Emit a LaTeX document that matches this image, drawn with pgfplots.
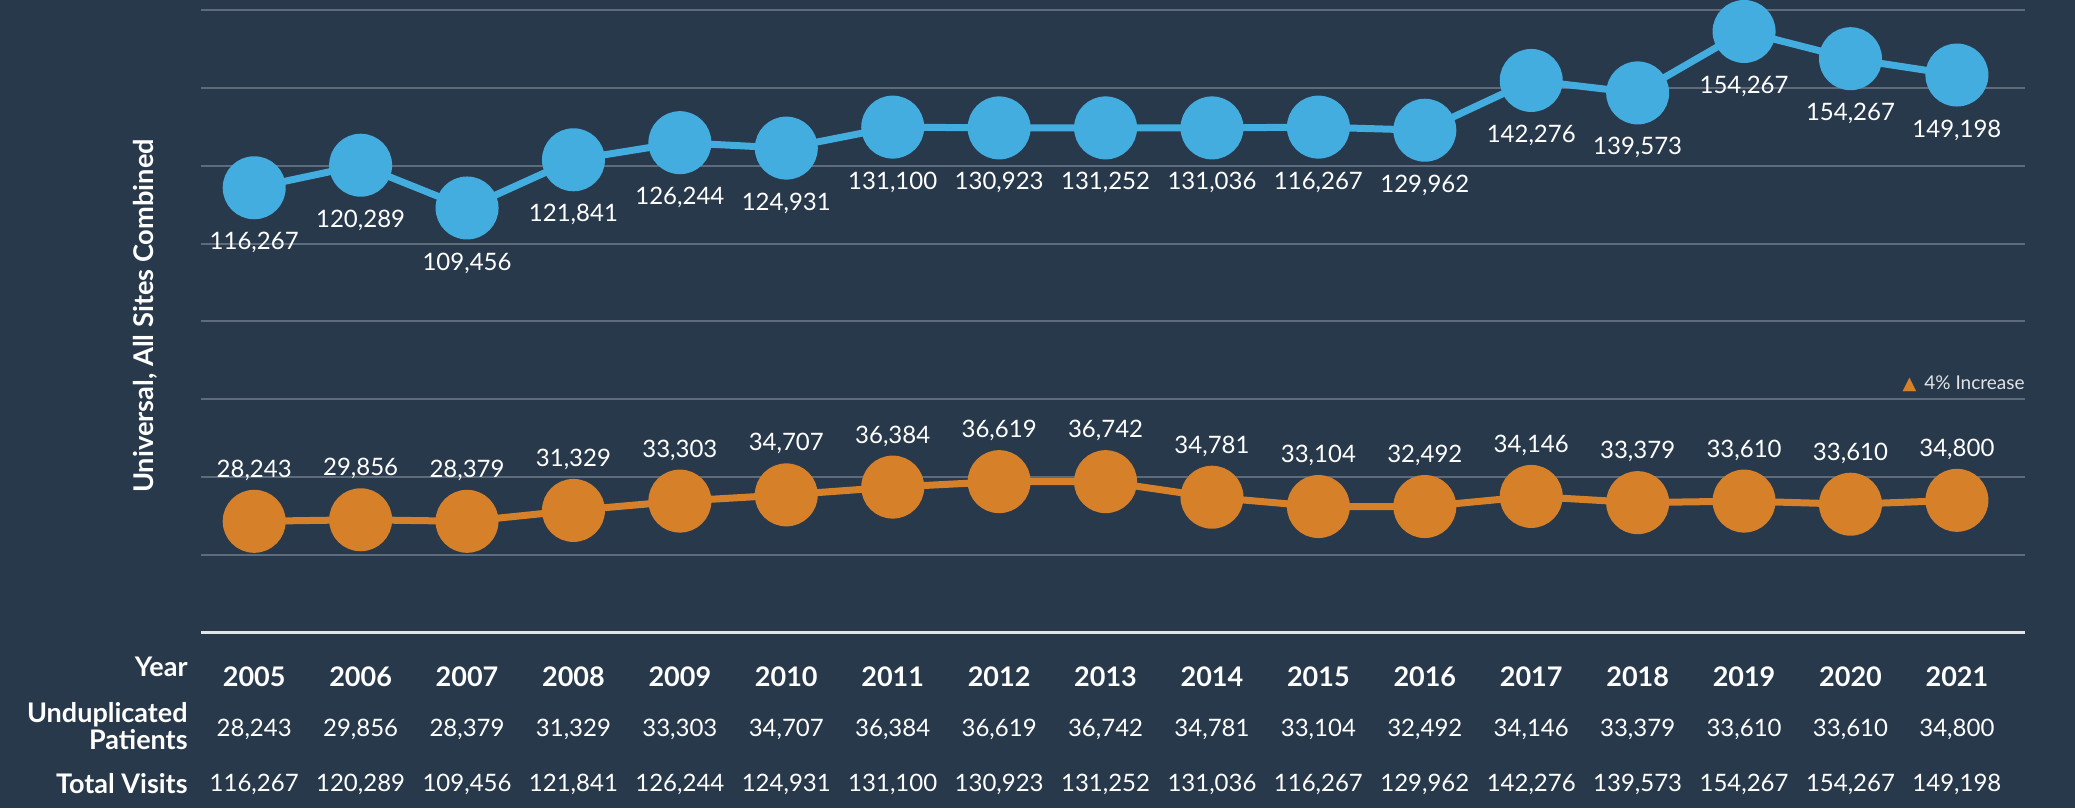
\documentclass[border=0pt]{standalone}
\usepackage{pgfplots}
\pgfplotsset{compat=1.18}
\usepackage{pgfplotstable}
\usepackage{fontspec}
\setmainfont{Lato}
\newfontfamily\symfont{DejaVu Sans}

\definecolor{bg}{HTML}{28394B}
\definecolor{vblue}{HTML}{43ADDF}
\definecolor{porange}{HTML}{D7802A}
\definecolor{gridc}{HTML}{5D6B7A}
\definecolor{basec}{HTML}{E1E5E9}
\newcommand{\lbl}{\fontsize{12pt}{14.4pt}\selectfont}
\newcommand{\bld}{\bfseries\fontsize{13.5pt}{14pt}\selectfont}

% vpos / ppos: marker heights as drawn (gridline units), labels: printed values
\pgfplotstableread{
year visits vpos patients ppos
2005 116,267 5.72 28,243 1.43
2006 120,289 6.01 29,856 1.45
2007 109,456 5.46 28,379 1.43
2008 121,841 6.08 31,329 1.57
2009 126,244 6.30 33,303 1.69
2010 124,931 6.23 34,707 1.77
2011 131,100 6.50 36,384 1.87
2012 130,923 6.49 36,619 1.94
2013 131,252 6.49 36,742 1.94
2014 131,036 6.49 34,781 1.74
2015 116,267 6.50 33,104 1.62
2016 129,962 6.46 32,492 1.62
2017 142,276 7.10 34,146 1.75
2018 139,573 6.94 33,379 1.67
2019 154,267 7.73 33,610 1.69
2020 154,267 7.38 33,610 1.65
2021 149,198 7.17 34,800 1.70
}\datatable

\begin{document}
\begin{tikzpicture}
\fill[bg, use as bounding box] (0,0) rectangle (1037.5pt,404pt);
\begin{axis}[
  at={(100.5pt,87.75pt)}, anchor=south west,
  scale only axis, width=912pt, height=311pt,
  xmin=2004.5, xmax=2021.64, ymin=0, ymax=8,
  clip=false,
  axis line style={draw=none},
  xtick=\empty,
  ytick={1,...,8}, yticklabels={}, major tick length=0pt,
  ymajorgrids, grid style={gridc, line width=1pt},
  extra y ticks={0}, extra y tick labels={},
  extra y tick style={grid style={basec, line width=1.6pt}},
  every node near coord/.append style={font=\lbl, text=white, anchor=center},
]
\addplot[vblue, line width=3.5pt, mark=*, mark size=14pt, mark options={fill=vblue},
  nodes near coords, point meta=explicit symbolic,
  nodes near coords style={yshift=-27.5pt}]
  table[x=year, y=vpos, meta=visits] {\datatable};
\addplot[porange, line width=3.5pt, mark=*, mark size=14pt, mark options={fill=porange},
  nodes near coords, point meta=explicit symbolic,
  nodes near coords style={yshift=25.5pt}]
  table[x=year, y=ppos, meta=patients] {\datatable};

% table rows under the chart
\addplot[draw=none, nodes near coords, point meta=explicit symbolic,
  nodes near coords style={font=\bld}]
  table[x=year, y expr=-0.572, meta=year] {\datatable};
\addplot[draw=none, nodes near coords, point meta=explicit symbolic]
  table[x=year, y expr=-1.241, meta=patients] {\datatable};
\addplot[draw=none, nodes near coords, point meta=explicit symbolic]
  table[x=year, y expr=-1.949, meta=visits] {\datatable};

\node[anchor=east, inner sep=0pt, text=basec, font=\fontsize{9.5pt}{11pt}\selectfont]
  at (axis cs:2021.64,3.2) {{\symfont\color{porange}\fontsize{9pt}{9pt}\selectfont ▲}\hspace{4pt}4\% Increase};
\end{axis}
\node[anchor=east, inner sep=0pt, text=white, font=\bld] at (94pt,70.5pt) {Year};
\node[anchor=east, inner sep=0pt, align=right, text=white, font=\bld]
  at (94pt,40.75pt) {Unduplicated\\[-0.5pt]Patients};
\node[anchor=east, inner sep=0pt, text=white, font=\bld] at (94pt,12pt) {Total Visits};
\node[rotate=90, text=white, font=\bfseries\fontsize{13.6pt}{14pt}\selectfont]
  at (72.8pt,246pt) {Universal, All Sites Combined};
\end{tikzpicture}
\end{document}
